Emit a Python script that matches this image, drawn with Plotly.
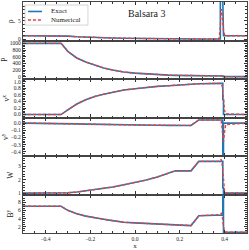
import plotly.graph_objects as go
from plotly.subplots import make_subplots

# ---------------- data ----------------
x_exact = [-0.5, -0.33, -0.30, -0.26, -0.22, -0.18, -0.14, -0.10, -0.05, 0.0, 0.05,
           0.10, 0.15, 0.18, 0.25, 0.285, 0.381, 0.381, 0.392, 0.392, 0.395, 0.395, 0.5]
rho_exact = [1, 1, 0.87, 0.72, 0.60, 0.50, 0.43, 0.37, 0.30, 0.25, 0.21,
             0.18, 0.16, 0.15, 0.15, 0.10, 0.10, 10.5, 10.5, 1.5, 1.5, 1.0, 1.0]
p_exact = [1000, 1000, 760, 560, 440, 340, 260, 200, 140, 105, 78,
           58, 45, 40, 40, 25, 25, 25, 25, 18, 18, 0.1, 0.1]
vx_exact = [0, 0, 0.14, 0.32, 0.45, 0.55, 0.62, 0.68, 0.75, 0.79, 0.83,
            0.86, 0.88, 0.895, 0.91, 0.94, 0.95, 0.95, 0.95, 0.46, 0.46, 0.0, 0.0]
vy_exact = [0, 0, -0.005, -0.01, -0.014, -0.017, -0.02, -0.022, -0.025, -0.027, -0.029,
            -0.03, -0.031, -0.032, -0.032, 0.045, 0.045, 0.045, 0.045, -0.48, -0.48, 0.0, 0.0]
w_exact = [1, 1, 1.03, 1.08, 1.16, 1.25, 1.34, 1.45, 1.62, 1.78, 1.97,
           2.20, 2.48, 2.65, 2.65, 3.35, 3.35, 3.35, 3.35, 1.4, 1.4, 1.0, 1.0]
by_exact = [7, 7, 6.0, 5.2, 4.6, 4.15, 3.85, 3.5, 3.1, 2.95, 2.8,
            2.65, 2.5, 2.45, 2.3, 4.7, 4.85, 4.85, 4.85, 10.5, 10.5, 0.7, 0.7]

x_num = [-0.5, -0.33, -0.30, -0.26, -0.22, -0.18, -0.14, -0.10, -0.05, 0.0, 0.05,
         0.10, 0.15, 0.18, 0.25, 0.285, 0.375, 0.38, 0.385, 0.39, 0.395, 0.40, 0.405, 0.5]
rho_num = [1, 1, 0.87, 0.72, 0.60, 0.50, 0.43, 0.37, 0.30, 0.25, 0.21,
           0.18, 0.16, 0.15, 0.15, 0.10, 0.10, 2.5, 8.2, 6.5, 2.5, 1.2, 1.0, 1.0]
p_num = [1000, 1000, 760, 560, 440, 340, 260, 200, 140, 105, 78,
         58, 45, 40, 40, 25, 25, 25, 25, 22, 12, 3, 0.5, 0.1]
vx_num = [0, 0, 0.14, 0.32, 0.45, 0.55, 0.62, 0.68, 0.75, 0.79, 0.83,
          0.86, 0.88, 0.895, 0.91, 0.94, 0.95, 0.95, 0.94, 0.85, 0.45, 0.12, 0.02, 0.0]
vy_num = [0, 0, -0.005, -0.01, -0.014, -0.017, -0.02, -0.022, -0.025, -0.027, -0.029,
          -0.03, -0.031, -0.032, -0.032, 0.045, 0.045, 0.045, 0.03, -0.12, -0.26, -0.12, -0.02, 0.0]
w_num = [1, 1, 1.03, 1.08, 1.16, 1.25, 1.34, 1.45, 1.62, 1.78, 1.97,
         2.20, 2.48, 2.65, 2.65, 3.35, 3.35, 3.4, 3.5, 3.0, 1.8, 1.15, 1.02, 1.0]
by_num = [7, 7, 6.0, 5.2, 4.6, 4.15, 3.85, 3.5, 3.1, 2.95, 2.8,
          2.65, 2.5, 2.45, 2.3, 4.7, 4.85, 4.95, 5.25, 4.5, 2.0, 0.9, 0.72, 0.7]

labels = ["ρ", "P", "v<sup>x</sup>", "v<sup>y</sup>", "W", "B<sup>y</sup>"]
series_names = ["Exact", "Numerical"]
title_text = "Balsara 3"
x_ticks = [-0.4, -0.2, 0.0, 0.2, 0.4]

# ---------------- figure ----------------
FONT = "Liberation Serif"
BLUE = "#1f77b4"
RED = "#e8413c"

fig = make_subplots(rows=6, cols=1, shared_xaxes=True, vertical_spacing=0)

exact_sets = [rho_exact, p_exact, vx_exact, vy_exact, w_exact, by_exact]
num_sets = [rho_num, p_num, vx_num, vy_num, w_num, by_num]
yranges = [[-0.3, 10.1], [-70, 1085], [-0.09, 1.085], [-0.46, 0.079], [0.9, 3.75], [0.5, 9.85]]
ydticks = [5, 200, 0.2, 0.1, 1, 2]
yminor = [1, 50, 0.05, 0.025, 0.2, 0.5]
yfmt = ["", "", ".1f", ".1f", "", ""]

for i in range(6):
    r = i + 1
    fig.add_trace(go.Scatter(x=x_exact, y=exact_sets[i], mode="lines", name=series_names[0],
                             line=dict(color=BLUE, width=1.6), showlegend=False),
                  row=r, col=1)
    fig.add_trace(go.Scatter(x=x_num, y=num_sets[i], mode="lines", name=series_names[1],
                             line=dict(color=RED, width=1.4, dash="3px,2px"), showlegend=False),
                  row=r, col=1)
    fig.update_yaxes(range=yranges[i], dtick=ydticks[i], tick0=0, tickformat=yfmt[i],
                     ticks="inside", ticklen=3, tickwidth=0.8, tickcolor="#333",
                     minor=dict(ticks="inside", ticklen=1.5, dtick=yminor[i], tick0=0,
                                tickcolor="#333", tickwidth=0.6, showgrid=False),
                     showline=True, linecolor="#444", linewidth=1.4, mirror="allticks",
                     showgrid=False, zeroline=False, automargin=False,
                     tickfont=dict(family=FONT, size=5.5, color="#222"),
                     title=dict(text=labels[i], font=dict(family=FONT, size=7.5, color="#222"),
                                standoff=3),
                     row=r, col=1)
    fig.update_xaxes(range=[-0.5, 0.5], tickvals=x_ticks, tickformat=".1f",
                     ticks="inside", ticklen=3, tickwidth=0.8, tickcolor="#333",
                     minor=dict(ticks="inside", ticklen=1.5, dtick=0.05, tick0=0,
                                tickcolor="#333", tickwidth=0.6, showgrid=False),
                     showline=True, linecolor="#444", linewidth=1.4, mirror="allticks",
                     showgrid=False, zeroline=False, automargin=False,
                     showticklabels=(r == 6),
                     tickfont=dict(family=FONT, size=5.5, color="#222"),
                     row=r, col=1)

fig.update_xaxes(title=dict(text="x", font=dict(family=FONT, size=7, color="#222"), standoff=0),
                 row=6, col=1)

fig.add_annotation(text=title_text, xref="paper", yref="paper", x=0.553, y=0.952,
                   showarrow=False, font=dict(family=FONT, size=10, color="#222"),
                   xanchor="center", yanchor="middle")

# legend drawn as a compact box (matplotlib-like)
fig.add_shape(type="rect", xref="paper", yref="paper", x0=0.009, x1=0.29, y0=0.900, y1=0.987,
              line=dict(color="#cccccc", width=0.8), fillcolor="rgba(255,255,255,0.9)")
fig.add_shape(type="line", xref="paper", yref="paper", x0=0.022, x1=0.085, y0=0.959, y1=0.959,
              line=dict(color=BLUE, width=1.6))
fig.add_shape(type="line", xref="paper", yref="paper", x0=0.022, x1=0.085, y0=0.922, y1=0.922,
              line=dict(color=RED, width=1.4, dash="3px,2px"))
fig.add_annotation(text=series_names[0], xref="paper", yref="paper", x=0.115, y=0.959,
                   showarrow=False, xanchor="left", yanchor="middle",
                   font=dict(family=FONT, size=7, color="#222"))
fig.add_annotation(text=series_names[1], xref="paper", yref="paper", x=0.115, y=0.922,
                   showarrow=False, xanchor="left", yanchor="middle",
                   font=dict(family=FONT, size=7, color="#222"))

fig.update_layout(
    template="none",
    width=249, height=250,
    margin=dict(l=23, r=2, t=2, b=17, autoexpand=False),
    paper_bgcolor="white", plot_bgcolor="white",
    font=dict(family=FONT, size=6, color="#222"),
    showlegend=False,
)

fig.write_html("out.html", config={"displayModeBar": False},
               post_script="document.body.style.margin='0';document.body.style.overflow='hidden';")
